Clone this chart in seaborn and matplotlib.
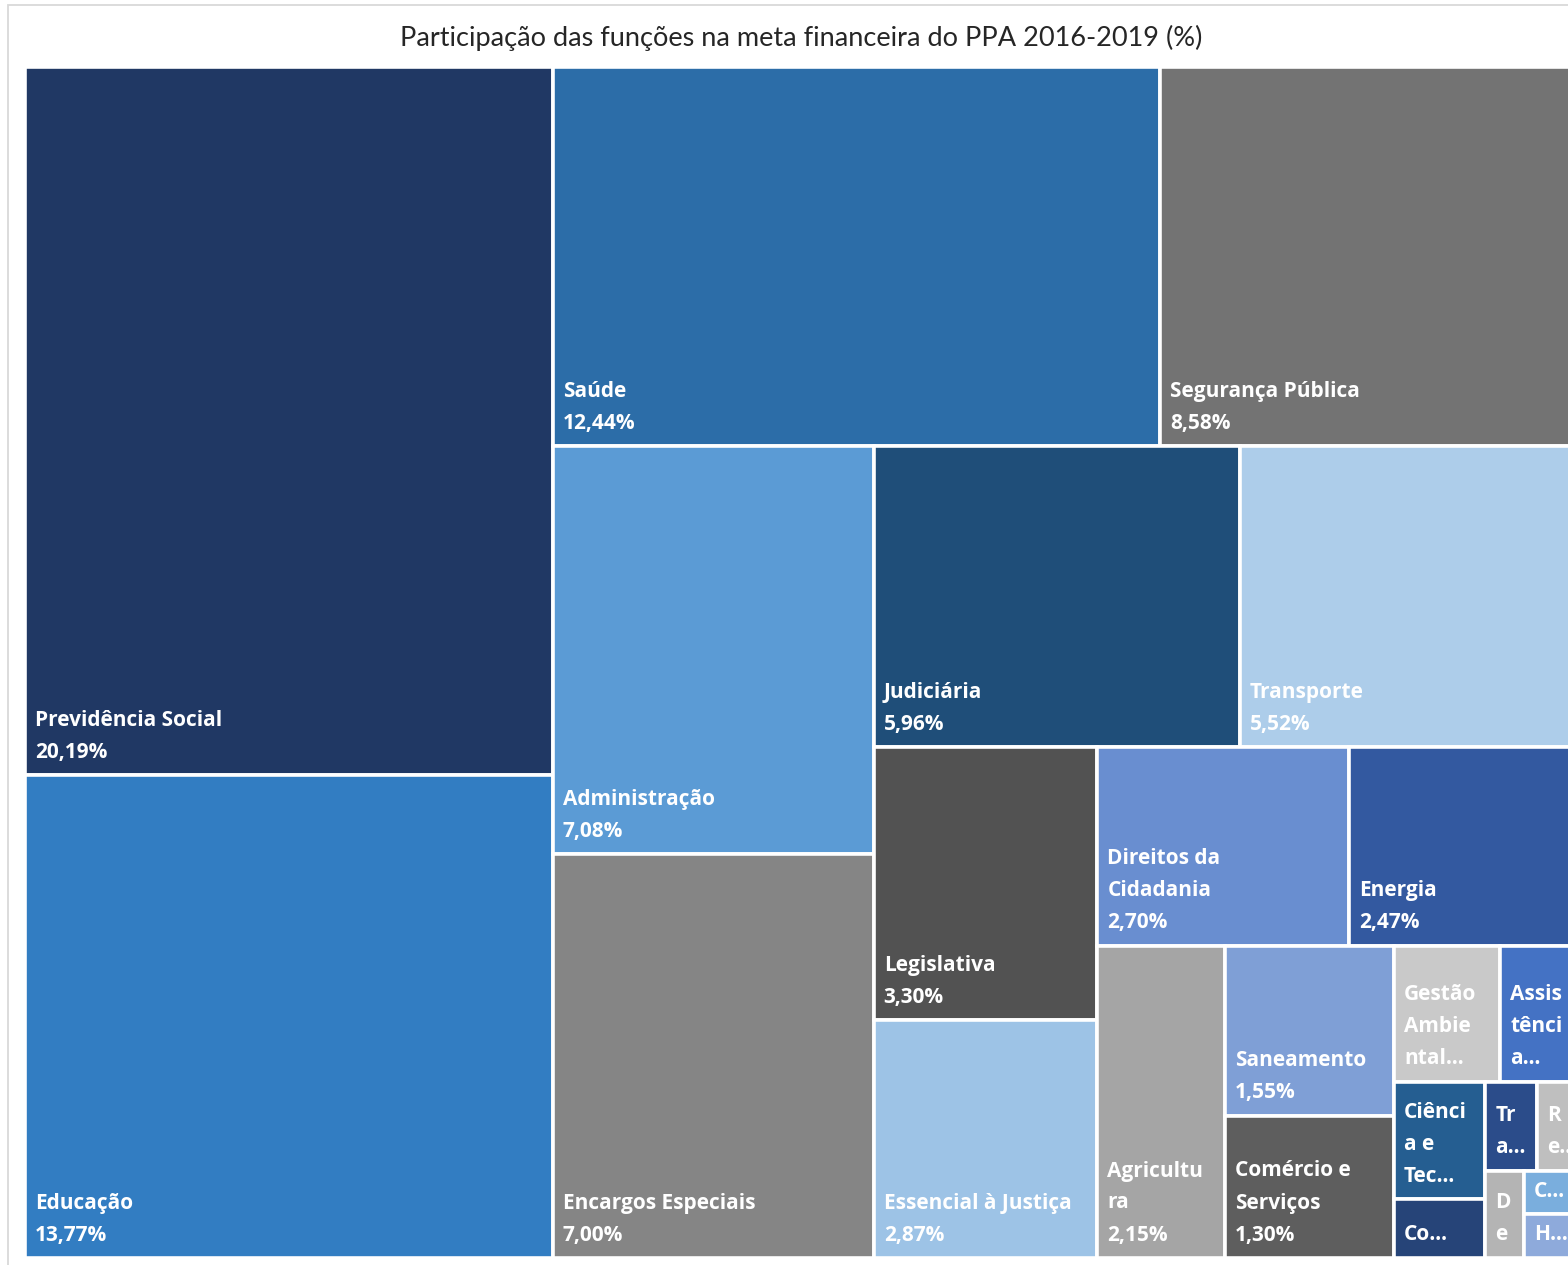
import matplotlib
matplotlib.use("Agg")
import matplotlib.pyplot as plt
from matplotlib.patches import Rectangle
import seaborn as sns

# participação das funções na meta financeira do PPA 2016-2019 (%)
funcoes = ["Previdência Social", "Educação", "Saúde", "Segurança Pública", "Administração",
           "Encargos Especiais", "Judiciária", "Transporte", "Legislativa", "Essencial à Justiça",
           "Direitos da\nCidadania", "Energia", "Agricultu\nra", "Saneamento", "Comércio e\nServiços",
           "Gestão\nAmbie\nntal…", "Assis\ntênci\na…", "Ciênci\na e\nTec…", "Co…",
           "Tr\na…", "R\ne…", "D\ne", "C…", "H…"]
participacao = [20.19, 13.77, 12.44, 8.58, 7.08, 7.00, 5.96, 5.52, 3.30, 2.87,
                2.70, 2.47, 2.15, 1.55, 1.30,
                0.78, 0.58, 0.58, 0.29, 0.25, 0.20, 0.18, 0.13, 0.13]
mostra_pct = [True] * 15 + [False] * 9
cores = ["#203864", "#327DC2", "#2C6DA8", "#737373", "#5B9BD5",
         "#858585", "#1F4E79", "#ADCDEA", "#525252", "#9DC3E6",
         "#698ED0", "#3359A0", "#A5A5A5", "#7F9FD6", "#5E5E5E",
         "#C9C9C9", "#4472C4", "#255E91", "#264478", "#2B4C8A",
         "#BFBFBF", "#B4B4B4", "#7AAEDD", "#8EAADB"]
# quantas funções entram em cada faixa do treemap
faixas = [2, 2, 2, 2, 2, 2, 1, 2, 2, 2, 2, 1, 1, 1]


def treemap(vals, grupos, x, y, w, h):
    rects = []
    total = sum(vals)
    i = 0
    for g in grupos:
        parte = vals[i:i + g]
        s = sum(parte)
        if w >= h:  # faixa vertical à esquerda
            cw = w * s / total
            yy = y
            for v in parte:
                ch = h * v / s
                rects.append((x, yy, cw, ch))
                yy += ch
            x += cw
            w -= cw
        else:  # faixa horizontal no topo
            rh = h * s / total
            xx = x
            for v in parte:
                cw = w * v / s
                rects.append((xx, y, cw, rh))
                xx += cw
            y += rh
            h -= rh
        total -= s
        i += g
    return rects


sns.set_theme(style="white")
plt.rcParams['font.family'] = ['Open Sans', 'DejaVu Sans']

FW, FH = 1568, 1265
fig = plt.figure(figsize=(FW / 100, FH / 100), dpi=100)

# área do gráfico em pixels
x0, y0, W, H = 25, 67, 1554, 1191
ax = fig.add_axes([x0 / FW, 1 - (y0 + H) / FH, W / FW, H / FH])
ax.set_xlim(0, W)
ax.set_ylim(H, 0)
ax.axis("off")

rects = treemap(participacao, faixas, 0, 0, W, H)

for (rx, ry, rw, rh), nome, val, cor, pct in zip(rects, funcoes, participacao, cores, mostra_pct):
    r = Rectangle((rx, ry), rw, rh, facecolor=cor, edgecolor="white", linewidth=2.6)
    ax.add_patch(r)
    linhas = nome.split("\n")
    if pct:
        linhas.append(f"{val:.2f}".replace(".", ",") + "%")
    n = len(linhas)
    for k, txt in enumerate(linhas):
        ty = ry + rh - 23 - (n - 1 - k) * 32
        t = ax.text(rx + 10, ty, txt, color="white", fontsize=15, fontweight="bold",
                    ha="left", va="center")
        t.set_clip_path(r)

fig.text(801 / FW, 1 - 38 / FH, "Participação das funções na meta financeira do PPA 2016-2019 (%)",
         ha="center", va="center", fontsize=19.5, color="#262626", family=['Lato', 'DejaVu Sans'])

# moldura do gráfico
fig.add_artist(Rectangle((8 / FW, -0.1), 1.2, 1.1 - 5 / FH, transform=fig.transFigure,
                         fill=False, edgecolor="#D9D9D9", linewidth=1.3))

fig.savefig("out.png", dpi=100)
